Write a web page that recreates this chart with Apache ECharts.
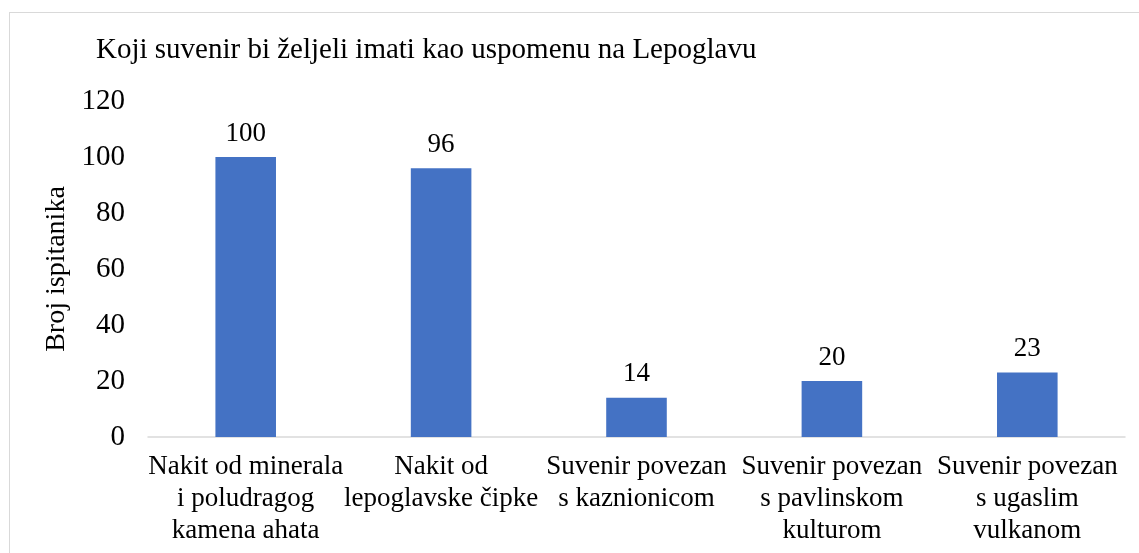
<!DOCTYPE html>
<html>
<head>
<meta charset="utf-8">
<script src="https://cdn.jsdelivr.net/npm/echarts@6/dist/echarts.min.js"></script>
<style>
  html, body { margin: 0; padding: 0; background: #fff; }
  #frame {
    position: absolute; left: 9px; top: 12px; width: 1140px; height: 560px;
    border: 1px solid #d9d9d9; box-sizing: border-box;
  }
  #chart { position: absolute; left: 0; top: 0; width: 1139px; height: 553px; }
</style>
</head>
<body>
<div id="frame"></div>
<div id="chart"></div>
<script>
// podaci s grafikona
const categories = [
  "Nakit od minerala\ni poludragog\nkamena ahata",
  "Nakit od\nlepoglavske čipke",
  "Suvenir povezan\ns kaznionicom",
  "Suvenir povezan\ns pavlinskom\nkulturom",
  "Suvenir povezan\ns ugaslim\nvulkanom"
];
const values = [100, 96, 14, 20, 23];
const yTicks = [0, 20, 40, 60, 80, 100, 120];

const font = "'Liberation Serif', 'Times New Roman', serif";

var myChart = echarts.init(document.getElementById("chart"));
let option = {
  animation: false,
  textStyle: { fontFamily: font },
  title: {
    text: "Koji suvenir bi željeli imati kao uspomenu na Lepoglavu",
    left: 91,
    top: 31,
    textStyle: { fontFamily: font, fontSize: 29, fontWeight: "normal", color: "#000" }
  },
  grid: { left: 148, right: 14, top: 101, bottom: 116 },
  xAxis: {
    type: "category",
    data: categories,
    axisLine: { lineStyle: { color: "#d9d9d9", width: 1.5 } },
    axisTick: { show: false },
    axisLabel: {
      interval: 0,
      margin: 14,
      color: "#000",
      fontFamily: font,
      fontSize: 27,
      lineHeight: 32
    }
  },
  yAxis: {
    type: "value",
    min: yTicks[0],
    max: yTicks[yTicks.length - 1],
    interval: 20,
    name: "Broj ispitanika",
    nameLocation: "middle",
    nameGap: 71,
    nameTextStyle: { fontFamily: font, fontSize: 28, color: "#000" },
    axisLine: { show: false },
    axisTick: { show: false },
    splitLine: { show: false },
    axisLabel: { margin: 23, color: "#000", fontFamily: font, fontSize: 29 }
  },
  series: [
    {
      type: "bar",
      data: values,
      barWidth: "31%",
      itemStyle: { color: "#4472C4" },
      label: {
        show: true,
        position: "top",
        distance: 10,
        color: "#000",
        fontFamily: font,
        fontSize: 27
      }
    }
  ]
};
myChart.setOption(option);
</script>
</body>
</html>
